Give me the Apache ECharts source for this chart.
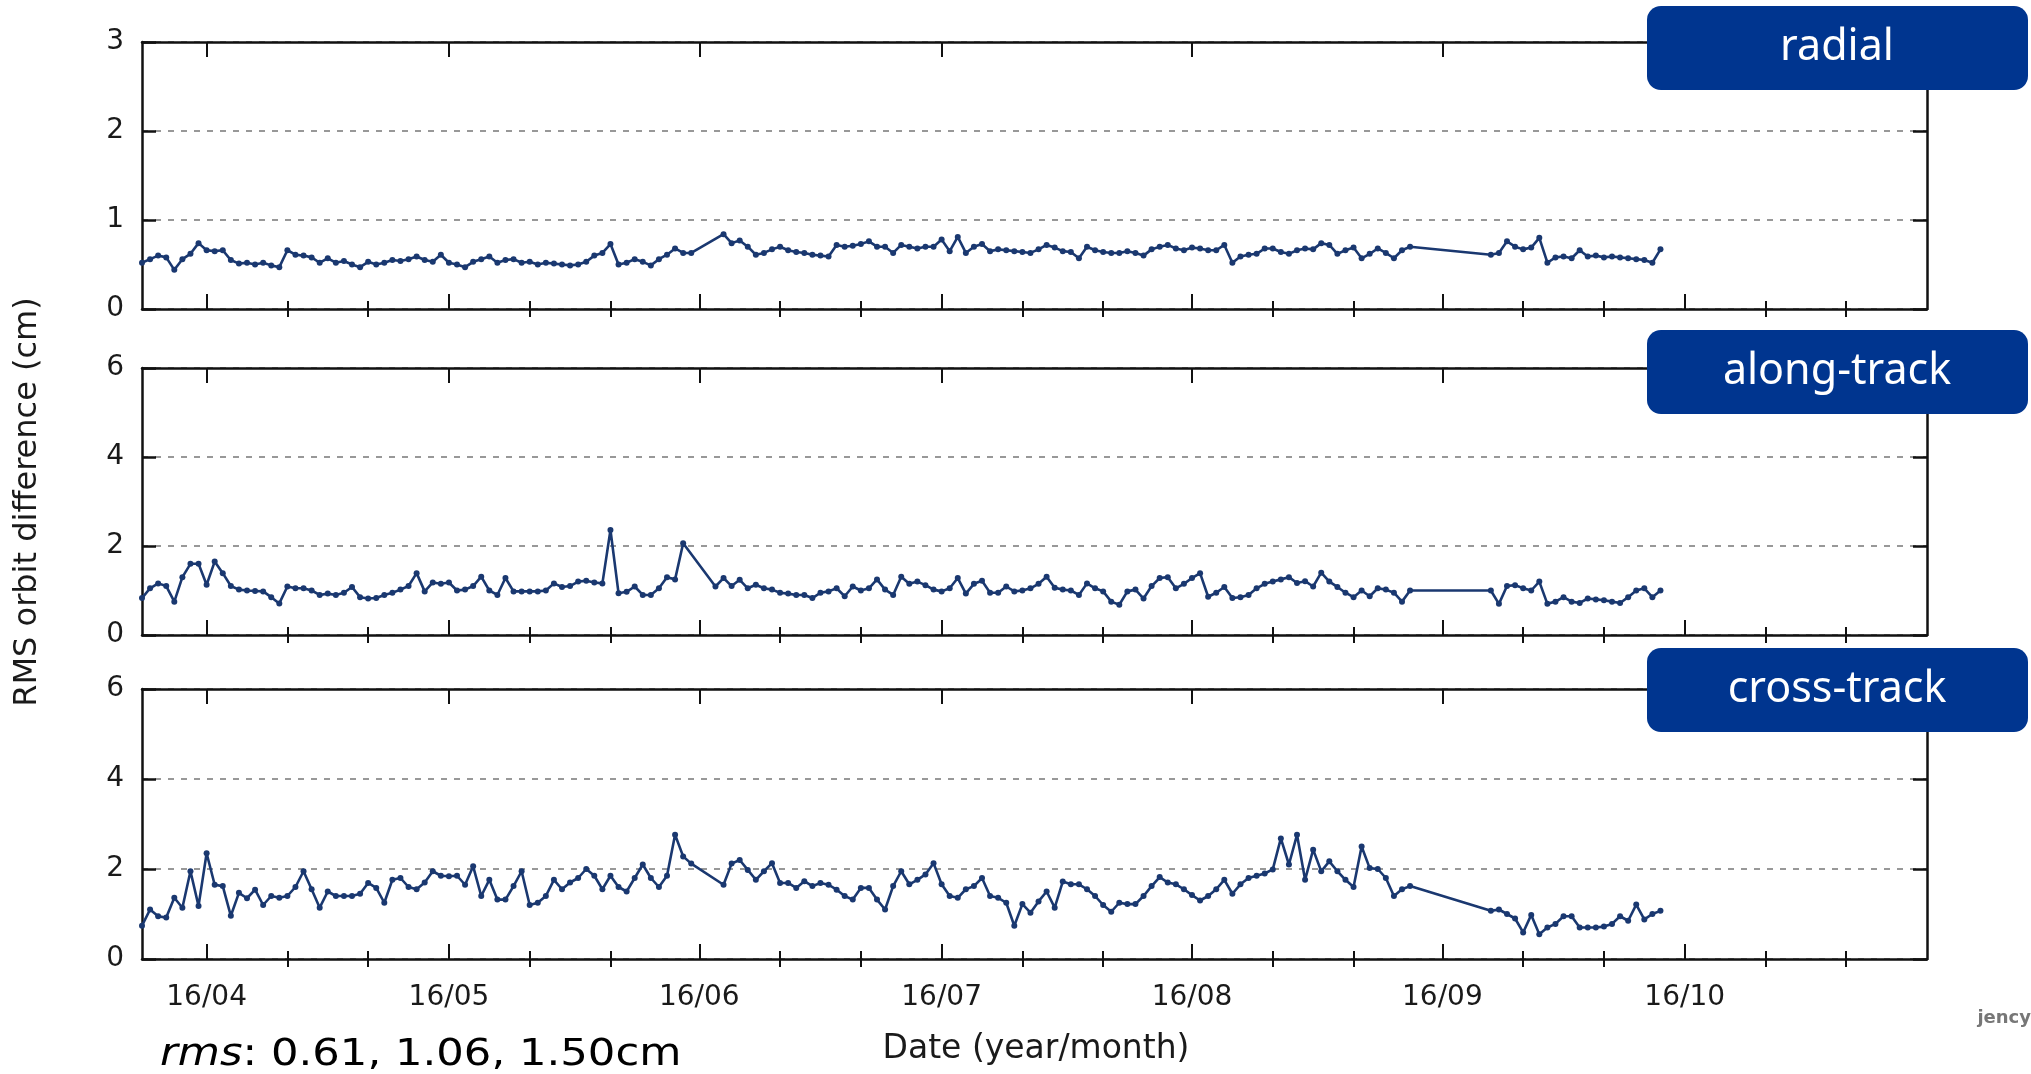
<!DOCTYPE html>
<html><head><meta charset="utf-8">
<script src="https://cdn.jsdelivr.net/npm/echarts@6/dist/echarts.min.js"></script>
<style>html,body{margin:0;padding:0;background:#fff;}#c{width:2031px;height:1074px;}</style>
</head><body><div id="c"></div><script>
// observation dates (2016, MM-DD), daily with two gaps
const dates = [
'03-24','03-25','03-26','03-27','03-28','03-29','03-30','03-31',
'04-01','04-02','04-03','04-04','04-05','04-06','04-07','04-08','04-09','04-10',
'04-11','04-12','04-13','04-14','04-15','04-16','04-17','04-18','04-19','04-20',
'04-21','04-22','04-23','04-24','04-25','04-26','04-27','04-28','04-29','04-30',
'05-01','05-02','05-03','05-04','05-05','05-06','05-07','05-08','05-09','05-10',
'05-11','05-12','05-13','05-14','05-15','05-16','05-17','05-18','05-19','05-20',
'05-21','05-22','05-23','05-24','05-25','05-26','05-27','05-28','05-29','05-30','05-31',
'06-03','06-04','06-05','06-06','06-07','06-08','06-09','06-10',
'06-11','06-12','06-13','06-14','06-15','06-16','06-17','06-18','06-19','06-20',
'06-21','06-22','06-23','06-24','06-25','06-26','06-27','06-28','06-29','06-30',
'07-01','07-02','07-03','07-04','07-05','07-06','07-07','07-08','07-09','07-10',
'07-11','07-12','07-13','07-14','07-15','07-16','07-17','07-18','07-19','07-20',
'07-21','07-22','07-23','07-24','07-25','07-26','07-27','07-28','07-29','07-30','07-31',
'08-01','08-02','08-03','08-04','08-05','08-06','08-07','08-08','08-09','08-10',
'08-11','08-12','08-13','08-14','08-15','08-16','08-17','08-18','08-19','08-20',
'08-21','08-22','08-23','08-24','08-25','08-26','08-27','08-28',
'09-07','09-08','09-09','09-10','09-11','09-12','09-13','09-14','09-15','09-16',
'09-17','09-18','09-19','09-20','09-21','09-22','09-23','09-24','09-25','09-26','09-27','09-28'
];
const radial = [
0.52,0.56,0.60,0.58,0.44,0.56,0.62,0.74,
0.66,0.65,0.66,0.55,0.51,0.52,0.50,0.52,0.49,0.47,
0.66,0.61,0.60,0.58,0.52,0.57,0.52,0.54,0.50,0.47,
0.53,0.50,0.52,0.55,0.54,0.56,0.59,0.55,0.53,0.61,
0.52,0.50,0.47,0.53,0.56,0.59,0.52,0.55,0.56,0.52,
0.53,0.50,0.52,0.51,0.50,0.49,0.50,0.53,0.60,0.63,
0.73,0.50,0.52,0.56,0.53,0.49,0.56,0.61,0.68,0.63,0.63,
null,0.84,0.74,0.77,0.70,0.61,0.63,0.67,
0.70,0.66,0.64,0.63,0.61,0.60,0.59,0.72,0.70,0.71,
0.73,0.76,0.70,0.70,0.63,0.72,0.70,0.68,0.70,0.70,
0.78,0.65,0.81,0.63,0.70,0.73,0.65,0.67,0.66,0.65,
0.64,0.63,0.67,0.72,0.69,0.65,0.64,0.57,0.70,0.66,
0.64,0.63,0.63,0.65,0.63,0.60,0.67,0.70,0.72,0.68,0.66,
0.69,0.68,0.66,0.66,0.72,0.52,0.59,0.61,0.62,0.68,
0.68,0.64,0.62,0.66,0.68,0.67,0.74,0.72,0.62,0.66,
0.69,0.57,0.62,0.68,0.63,0.57,0.66,0.70,
0.61,0.63,0.76,0.70,0.67,0.69,0.80,0.52,0.58,0.59,
0.57,0.66,0.59,0.60,0.58,0.59,0.58,0.57,0.56,0.55,0.52,0.67
];
const alongTrack = [
0.83,1.05,1.16,1.10,0.75,1.30,1.60,1.60,
1.13,1.65,1.39,1.10,1.02,1.00,0.99,0.98,0.85,0.71,
1.09,1.05,1.05,1.00,0.90,0.93,0.90,0.95,1.08,0.85,
0.82,0.83,0.90,0.95,1.02,1.10,1.39,0.98,1.18,1.15,
1.18,1.00,1.02,1.10,1.31,1.00,0.90,1.28,0.98,0.98,
0.98,0.98,1.00,1.16,1.08,1.10,1.20,1.22,1.18,1.16,
2.36,0.94,0.97,1.09,0.90,0.90,1.05,1.30,1.25,2.06,null,
1.09,1.28,1.10,1.24,1.05,1.13,1.05,1.02,
0.95,0.93,0.90,0.90,0.83,0.95,0.98,1.05,0.87,1.09,
1.00,1.05,1.25,1.02,0.90,1.31,1.15,1.20,1.12,1.02,
0.98,1.05,1.28,0.93,1.15,1.22,0.95,0.95,1.09,0.98,
1.00,1.05,1.15,1.31,1.06,1.02,1.00,0.90,1.16,1.05,
0.98,0.75,0.68,0.98,1.02,0.82,1.10,1.28,1.30,1.05,1.15,
1.28,1.39,0.86,0.95,1.08,0.83,0.85,0.90,1.05,1.15,
1.20,1.25,1.30,1.17,1.21,1.09,1.40,1.20,1.08,0.95,
0.85,1.00,0.87,1.05,1.02,0.95,0.75,1.00,
1.00,0.70,1.10,1.12,1.05,1.00,1.20,0.70,0.75,0.85,
0.75,0.72,0.82,0.80,0.78,0.75,0.72,0.85,1.00,1.05,0.85,1.00
];
const crossTrack = [
0.74,1.10,0.95,0.92,1.36,1.14,1.95,1.18,
2.35,1.65,1.62,0.96,1.47,1.35,1.54,1.20,1.40,1.36,
1.40,1.60,1.95,1.55,1.14,1.50,1.40,1.40,1.40,1.45,
1.69,1.58,1.25,1.76,1.80,1.60,1.55,1.70,1.95,1.85,
1.84,1.85,1.65,2.06,1.40,1.76,1.32,1.32,1.62,1.95,
1.20,1.25,1.40,1.76,1.55,1.70,1.80,2.00,1.85,1.55,
1.85,1.60,1.50,1.80,2.10,1.80,1.60,1.85,2.76,2.28,2.12,
null,1.65,2.12,2.20,1.98,1.76,1.95,2.13,
1.69,1.69,1.58,1.73,1.62,1.69,1.65,1.54,1.40,1.32,
1.58,1.58,1.32,1.10,1.62,1.95,1.66,1.76,1.88,2.13,
1.66,1.40,1.36,1.55,1.62,1.80,1.40,1.36,1.25,0.74,
1.22,1.03,1.28,1.50,1.14,1.72,1.66,1.66,1.55,1.40,
1.20,1.05,1.25,1.22,1.22,1.40,1.62,1.82,1.70,1.66,1.55,
1.42,1.30,1.40,1.55,1.76,1.45,1.66,1.80,1.85,1.90,
1.99,2.68,2.10,2.76,1.76,2.43,1.95,2.17,1.95,1.76,
1.60,2.50,2.02,2.00,1.80,1.40,1.55,1.62,
1.07,1.10,1.00,0.90,0.59,0.98,0.55,0.70,0.78,0.95,
0.95,0.70,0.70,0.70,0.72,0.78,0.95,0.85,1.21,0.88,1.00,1.07
];
const monthTicks = ['04-01','05-01','06-01','07-01','08-01','09-01','10-01'];
const minorTicks = ['04-11','04-21','05-11','05-21','06-11','06-21','07-11','07-21','08-11','08-21','09-11','09-21','10-11','10-21'];
const xRange = ['03-24','10-31'];
const panelNames = ['radial','along-track','cross-track'];
const yMaxes = [3,6,6];
const yIntervals = [1,2,2];

function ts(md){ const p = md.split('-'); return new Date(2016, +p[0]-1, +p[1]).getTime(); }
const seriesData = [radial, alongTrack, crossTrack];
const xMin = ts(xRange[0]), xMax = ts(xRange[1]);
const majorVals = monthTicks.map(ts), minorVals = minorTicks.map(ts);
const grids = [{left:142,right:104,top:42,height:267},{left:142,right:104,top:368,height:267},{left:142,right:104,top:689,height:270}];
const ink = '#111';
const lineCol = '#1a3870';
const font = 'DejaVu Sans';

const xAxis = [], yAxis = [], series = [];
grids.forEach((gr,g)=>{
  const base = {type:'value', gridIndex:g, min:xMin, max:xMax, splitLine:{show:false}, axisLabel:{show:false}};
  const line = {show:true, onZero:false, lineStyle:{color:ink, width:2.5}};
  xAxis.push({...base, position:'bottom', axisLine:line,
    axisTick:{show:true, inside:true, length:15, customValues:majorVals, lineStyle:{color:ink,width:2}},
    axisLabel: g===2 ? {show:true, customValues:majorVals, fontSize:28, fontFamily:font, color:'#1a1a1a', margin:25,
      formatter:v=>{const d=new Date(v); return '16/'+String(d.getMonth()+1).padStart(2,'0');}} : {show:false}});
  xAxis.push({...base, position:'bottom', axisLine:{show:false},
    axisTick:{show:true, inside:true, length:8, customValues:minorVals, lineStyle:{color:ink,width:2}}});
  xAxis.push({...base, position:'top', axisLine:line,
    axisTick:{show:true, inside:true, length:15, customValues:majorVals, lineStyle:{color:ink,width:2}}});
  xAxis.push({...base, position:'top', axisLine:{show:false},
    axisTick:{show:true, inside:true, length:8, customValues:minorVals, lineStyle:{color:ink,width:2}}});
  const yb = {type:'value', gridIndex:g, min:0, max:yMaxes[g], interval:yIntervals[g]};
  yAxis.push({...yb, position:'left', axisLine:line,
    axisTick:{show:true, inside:true, length:14, lineStyle:{color:ink,width:2.5}},
    axisLabel:{fontSize:28, fontFamily:font, color:'#1a1a1a', margin:18},
    splitLine:{show:true, lineStyle:{color:'#777', width:1.5, type:[6,7]}}});
  yAxis.push({...yb, position:'right', axisLine:line,
    axisTick:{show:true, inside:true, length:14, lineStyle:{color:ink,width:2.5}},
    axisLabel:{show:false}, splitLine:{show:false}});
  series.push({type:'line', name:panelNames[g], xAxisIndex:4*g, yAxisIndex:2*g,
    data: dates.map((d,i)=>[ts(d), seriesData[g][i]]),
    connectNulls:true, symbol:'circle', symbolSize:6, showSymbol:true, showAllSymbol:true,
    lineStyle:{color:lineCol, width:2.6}, itemStyle:{color:lineCol}, z:3});
});

const boxTops = [6, 330, 648];
const graphic = [];
boxTops.forEach((t,i)=>{
  graphic.push({type:'rect', z:100, shape:{x:1647, y:t, width:381, height:84, r:14}, style:{fill:'#00358f'}});
  graphic.push({type:'text', z:101, x:1837, y:t+42, style:{text:panelNames[i], fill:'#fff', font:'43px "Noto Sans"', textAlign:'center', textVerticalAlign:'middle'}});
});
graphic.push({type:'text', z:101, x:28, y:502, rotation:Math.PI/2, style:{text:'RMS orbit difference (cm)', fill:'#1a1a1a', font:'32px "DejaVu Sans"', textAlign:'center', textVerticalAlign:'middle'}});
graphic.push({type:'text', z:101, x:1036, y:1049, style:{text:'Date (year/month)', fill:'#1a1a1a', font:'33px "DejaVu Sans"', textAlign:'center', textVerticalAlign:'middle'}});
graphic.push({type:'text', z:101, x:160, y:1055, scaleX:1.14, style:{text:'{i|rms}: 0.61, 1.06, 1.50cm', fill:'#000', font:'38px "DejaVu Sans"', textAlign:'left', textVerticalAlign:'middle',
  rich:{i:{fontStyle:'italic', fontFamily:'DejaVu Sans', fontSize:38, fill:'#000'}}}});
graphic.push({type:'text', z:101, x:2031, y:1018, style:{text:'jency', fill:'#777', font:'bold 18px "DejaVu Sans"', textAlign:'right', textVerticalAlign:'middle'}});

const chart = echarts.init(document.getElementById('c'), null, {renderer:'canvas'});
chart.setOption({animation:false, backgroundColor:'#fff', grid:grids, xAxis, yAxis, series, graphic});
</script></body></html>
